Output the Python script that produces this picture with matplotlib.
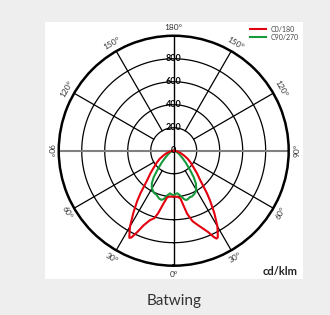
"""Batwing polar light distribution diagram."""

import matplotlib
matplotlib.use("Agg")
import matplotlib.pyplot as plt
import numpy as np
from matplotlib.patches import Rectangle

plt.rcParams["font.family"] = ["Lato", "DejaVu Sans"]

# C0 plane (right half) and C180 plane (left half), cd/klm vs gamma angle
gamma_c0 = [0, 5, 8, 10, 12, 15, 18, 21, 23, 25, 26, 27, 28, 30, 33, 36, 38, 42, 46, 50, 55, 60, 65, 70, 80, 90]
c0 = [400, 402, 420, 480, 560, 635, 680, 730, 770, 830, 850, 845, 815, 760, 650, 540, 470, 345, 280, 225, 180, 140, 100, 70, 30, 0]
gamma_c180 = [0, 5, 8, 11, 14, 16, 19, 22, 24, 26, 27, 28, 30, 33, 36, 38, 42, 46, 50, 55, 60, 65, 70, 80, 90]
c180 = [400, 400, 410, 470, 560, 610, 640, 700, 770, 840, 850, 820, 760, 645, 540, 470, 345, 280, 225, 180, 140, 100, 70, 30, 0]

# C90 plane (right half) and C270 plane (left half)
gamma_c90 = [0, 3, 5, 7, 9, 12, 14, 16, 19, 22, 25, 28, 31, 34, 37, 40, 45, 50, 60, 70, 80, 90]
c90 = [390, 375, 372, 385, 400, 430, 442, 440, 428, 428, 418, 405, 380, 345, 290, 225, 150, 100, 50, 22, 6, 0]
gamma_c270 = [0, 3, 5, 7, 9, 11, 14, 17, 21, 25, 28, 31, 34, 37, 40, 45, 50, 60, 70, 80, 90]
c270 = [390, 380, 372, 385, 398, 425, 441, 435, 413, 405, 390, 370, 340, 290, 225, 150, 100, 50, 22, 6, 0]

ring_values = [200, 400, 600, 800, 1000]
ring_labels = ["0", "200", "400", "600", "800"]
angle_ticks = [0, 30, 60, 90, 120, 150, 180, -30, -60, -90, -120, -150]
angle_rot = [0, 30, 60, 90, -60, -30, 0, -30, -60, -90, 60, 30]

RED = "#e3000f"
GREEN = "#179a3c"


def half_planes(g_left, v_left, g_right, v_right):
    theta = np.deg2rad(np.concatenate([-np.array(g_left[::-1]), np.array(g_right)]))
    r = np.concatenate([np.array(v_left[::-1]), np.array(v_right)])
    return theta, r


fig = plt.figure(figsize=(3.3, 3.15), dpi=100, facecolor="#eeeeee")
fig.add_artist(Rectangle((0.1364, 0.1143), 0.782, 0.816, transform=fig.transFigure,
                         facecolor="white", edgecolor="none", zorder=0))

ax = fig.add_axes([0.1779, 0.1565, 0.697, 0.730], projection="polar")
ax.set_facecolor("none")
ax.set_theta_zero_location("S")
ax.set_theta_direction(1)
ax.set_ylim(0, 1000)
ax.grid(False)
ax.set_xticks([])
ax.set_yticks([])
ax.spines["polar"].set_linewidth(1.8)
ax.spines["polar"].set_color("black")

# grid: rings, spokes from the first ring, axis lines through the centre
circle = np.linspace(0, 2 * np.pi, 361)
for rv in ring_values[:-1]:
    ax.plot(circle, np.full_like(circle, rv), color="black", lw=0.9, zorder=1)
for a in angle_ticks:
    if a % 90 != 0:
        ax.plot([np.deg2rad(a)] * 2, [ring_values[0], 1000], color="black", lw=0.9, zorder=1)
ax.plot([0, 0], [0, 1000], color="black", lw=1.0, zorder=1)
ax.plot([np.pi, np.pi], [0, 1000], color="black", lw=1.0, zorder=1)
ax.plot([np.pi / 2] * 2, [0, 1000], color="#808080", lw=1.5, zorder=1)
ax.plot([-np.pi / 2] * 2, [0, 1000], color="#808080", lw=1.5, zorder=1)

th, r = half_planes(gamma_c180, c180, gamma_c0, c0)
ax.plot(th, r, color=RED, lw=1.5, zorder=4, label="C0/180")
th, r = half_planes(gamma_c270, c270, gamma_c90, c90)
ax.plot(th, r, color=GREEN, lw=1.5, zorder=3, label="C90/270")

# ring value labels along the vertical axis
for i, lab in enumerate(ring_labels):
    ax.text(np.pi, i * 200, lab, ha="center", va="center", fontsize=6.5,
            fontweight="bold", color="black", zorder=5)

# angle labels outside the circle
for a, rot in zip(angle_ticks, angle_rot):
    ax.text(np.deg2rad(a), 1075, f"{abs(a)}°", ha="center", va="center",
            rotation=rot, rotation_mode="anchor", fontsize=6, color="#333333",
            fontweight="normal")

ax.legend(loc="upper right", bbox_to_anchor=(0.915, 0.93), bbox_transform=fig.transFigure,
          frameon=False, fontsize=5, handlelength=2.3, handletextpad=0.6,
          labelspacing=0.15, labelcolor="#444444", borderpad=0)

fig.text(0.903, 0.138, "cd/klm", ha="right", va="center", fontsize=8,
         fontweight="bold", color="#222222")
fig.text(0.527, 0.045, "Batwing", ha="center", va="center", fontsize=11,
         color="#333333")

fig.savefig("out.png", dpi=100, facecolor=fig.get_facecolor())
